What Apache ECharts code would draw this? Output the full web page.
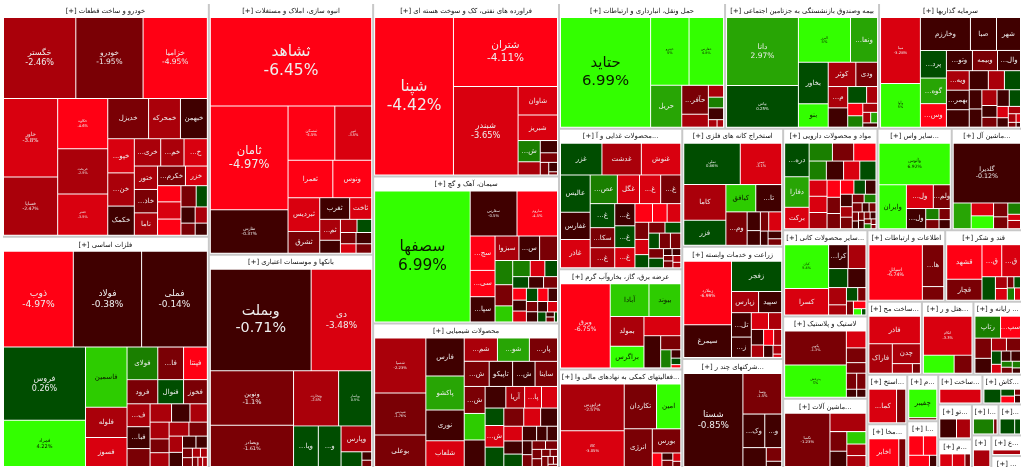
<!DOCTYPE html>
<html><head><meta charset="utf-8">
<style>html,body{margin:0;padding:0;background:#fff}#c{width:1024px;height:474px}</style>
<script src="https://cdn.jsdelivr.net/npm/echarts@6/dist/echarts.min.js"></script>
</head><body><div id="c"></div>
<script>
const autoCells=[['خگستر',-2.46,5688],['خودرو',-1.95,5293],['خزامیا',-4.95,5056],['خاور',-3.8,4134],['خساپا',-2.47,3074],['خکاوه',-4.6,2450],['خریخت',-2.5,2205],['خفنر',-3.5,2009],['خدیزل',-1.5,1599],['خمحرکه',-2.5,1248],['خبهمن',-0.5,1053],['...خپو',-3.5,884],['...خن',-2.5,858],['خکمک',-0.5,754],['...خری',-2.5,702],['...خم',-2.5,621],['...خ',-3.5,621],['ختور',-2.5,529],['...خاذ',-1.5,529],['ناما',-2.5,506],['...خکرم',-1.5,532],['خزر',-3.5,418],['...خر',-4.5,368],['...خج',-3.5,391],['...خاه',-4.5,368],['',-1.5,315],['',0.5,231],['',-0.5,224],['',-2.5,192],['',-1.5,168],['',-0.5,144]];
const metalCells=[['ذوب',-4.97,6417],['فولاد',-0.38,6278],['فملی',-0.14,6045],['فروس',0.26,5767],['فمراد',4.22,3634],['فاسمین',3.5,2400],['فلوله',-2.5,1200],['فسوز',-3.5,1160],['فولای',1.5,961],['...فا',-1.5,806],['فپنتا',-4.5,744],['فرود',-1.5,713],['فنوال',0.5,598],['فخوز',-1.5,552],['...ف',-2.5,506],['...فبا',-0.5,484],['فجر',-1.5,396],['...ف ',-2.5,378],['',-0.5,324],['',-2.5,306],['...فز',-2.5,306],['',-1.5,252],['',-2.5,252],['',-2.5,266],['',-1.5,247],['',-2.5,209],['',-0.5,182],['',-0.5,156],['',-0.5,132],['',-1.5,90],['',-1.5,84],['',-2.5,70],['',-2.5,60],['',-1.5,49],['',-2.5,42],['',-2.5,42]];
const buildCells=[['ثشاهد',-6.45,13846],['ثامان',-4.97,7828],['تفارس',-0.37,3268],['ثمسکن',-4.5,2468],['ثنور',-3.5,1943],['ثعمرا',-4.5,1620],['ونوس',-4.5,1404],['ثبردیس',-3.5,1037],['ثشرق',-1.5,671],['ثغرب',-0.5,630],['ثاخت',-3.5,462],['...ثم',-2.5,420],['',-0.5,260],['',-2.5,212],['',0.5,187],['',-1.5,170],['',-3.5,143],['',-0.5,170],['',-1.5,143]];
const bankCells=[['وبملت',-0.71,10000],['دی',-3.48,6000],['ونوین',-1.1,4428],['وبصادر',-1.61,3362],['وتجارت',-2.5,2430],['وپاسار',0.5,1782],['...ویا',0.5,984],['...و',0.5,902],['وپارس',-2.5,775],['...و ',0.5,300],['',-0.5,80],['',-1.5,60]];
const oilCells=[['شپنا',-4.42,12168],['شتران',-4.11,7035],['شبندر',-3.65,5607],['شاوان',-3.5,1107],['شبریز',-3.5,984],['...ش',1.5,462],['',-2.5,286],['',-0.5,207],['',-1.5,162],['',-1.5,104],['',-0.5,81],['',-1.5,27]];
const cementCells=[['سصفها',6.99,11960],['سفارس',-0.5,2016],['ساروم',-4.5,1743],['...سج',-4.5,816],['...سی',-4.5,624],['...سپا',-0.5,600],['سبزوا',-2.5,559],['...س',-0.5,484],['',-1.5,419],['',1.5,408],['',-1.5,357],['',3.5,272],['',1.5,270],['',-3.5,225],['',0.5,195],['',0.5,176],['',-0.5,165],['',-1.5,154],['',-4.5,156],['',-0.5,143],['',-3.5,143],['',0.5,144],['',-4.5,132],['',-0.5,120],['',-1.5,110],['',-0.5,110],['',-0.5,99],['',-3.5,99],['',0.5,80],['',-0.5,40],['',-1.5,40],['',0.5,30]];
const chemCells=[['شسپا',-2.23,2646],['شپدیس',-1.76,2009],['بوعلی',-1.5,1519],['فارس',-0.5,1369],['پاکشو',2.5,1221],['نوری',-0.5,1110],['شلعاب',-3.5,925],['...شم',-2.5,728],['...شو',2.5,700],['...پار',-1.5,616],['...ش',-1.5,588],['تاپیکو',-0.5,552],['...ش ',-0.5,529],['ساینا',-1.5,529],['...ش  ',-1.5,529],['',3.5,520],['',-0.5,520],['',-0.5,420],['آریا',-2.5,380],['...پا',-3.5,342],['',-3.5,324],['...زا',0.5,306],['...ش   ',-3.5,380],['...ش    ',0.5,340],['...شا',-1.5,340],['',-3.5,288],['',-0.5,288],['',-3.5,256],['',-0.5,228],['',0.5,216],['',-0.5,195],['',-0.5,143],['',-0.5,143],['',-0.5,126],['',-1.5,108],['',-1.5,108],['',-1.5,96],['',-1.5,84],['',-1.5,70],['',-1.5,56],['',-1.5,49],['',-1.5,60],['',-1.5,40],['',-1.5,30],['',-1.5,20]];
const transportCells=[['حتاید',6.99,9701],['حپترو',5,2562],['حفارس',4.8,2300],['حریل',2.5,1278],['...حآفر',-1.5,754],['',-2.5,338],['',-2.5,176],['',1.5,160],['',-0.5,176],['',-2.5,64],['',-2.5,48]];
const insureCells=[['دانا',2.97,4690],['بپاس',0.25,2870],['البرز',5,2236],['...ونعا',2.5,1161],['بخاور',0.5,1189],['بنو',4,667],['کوثر',-2.5,644],['ودی',-1.5,506],['...م',-2.5,399],['...آ',-0.5,361],['...پار',0.5,304],['',-2.5,176],['',-4.5,180],['',1.5,165],['',-2.5,128],['',-2.5,80],['',2,70],['',-0.5,60]];
const investCells=[['مبنا',-3.28,2470],['وآوا',5,1634],['وخارزم',-0.5,1550],['صبا',-0.5,806],['شهر',-0.5,744],['...پرد',0.5,675],['...گوه',2.5,625],['...وس',-4.5,575],['...وتو',-0.5,494],['وبیمه',-1.5,475],['...وال',-0.5,437],['...ویه',-2.5,418],['...بهمر',-0.5,418],['...و',-0.5,374],['...و ',-0.5,342],['...و  ',-2.5,288],['...و   ',0.5,288],['',-0.5,228],['',-0.5,216],['',-2.5,224],['',-0.5,168],['',-1.5,140],['',-0.5,192],['',0.5,176],['',-3.5,120],['',-0.5,100],['',-2.5,84],['',-2.5,63],['',-3.5,36],['',-1.5,35],['',-0.5,20]];
const foodCells=[['غزر',0.5,1230],['غدشت',-2.5,1170],['غنوش',-3.5,1170],['عالیس',0.5,1036],['غفارس',-0.5,756],['غاذر',-3.5,784],['...عص',1.5,729],['غگل',-3.5,594],['...غ',-3.5,567],['...غ ',-1.5,540],['...غ  ',0.5,552],['...سکا',-1.5,460],['...غ   ',-2.5,460],['...غ    ',-0.5,418],['...غ     ',0.5,412],['...غ      ',-3.5,380],['...غ       ',-4.5,306],['...غ        ',-4.5,255],['',-3.5,238],['',-1.5,221],['',-3.5,195],['',0.5,169],['',-1.5,165],['',0.5,160],['',0.5,155],['',-1.5,160],['',-1.5,150],['',-1.5,132],['',0.5,132],['',-0.5,56],['',-0.5,56],['',-1.5,48],['',-1.5,60],['',-2.5,50],['',-2.5,40]];
const powerCells=[['وبرق',-6.75,3984],['آبادا',3.5,1209],['بیوند',3.5,992],['بمولد',-2.5,957],['براگرس',5,693],['...دم',-3.5,672],['',-0.5,512],['',-1.5,270],['',1.5,180],['',-0.5,77],['',0.5,60],['',-4.5,30]];
const financeCells=[['فرابورس',-2.57,2898],['کالا',-3.05,2205],['تکاردان',-1.5,1408],['امین',4.5,1056],['انرژی',-1.5,1026],['بورس',-1.5,667],['',-4.5,126],['',-0.5,77],['',-1.5,66],['',-3.5,64],['',-1.5,40]];
const miningCells=[['تملی',0.86,2240],['تپمی',-3.1,1640],['کاما',-2.5,1435],['فزر',0.5,1013],['کیافق',3,780],['...تا',-0.5,676],['...وم',-1.5,680],['',-0.5,238],['',-0.5,187],['',-1.5,153],['...ا',-3.5,238],['',-0.5,105],['',-0.5,100],['',-1.5,85]];
const farmCells=[['زملارد',-6.99,2852],['سیمرغ',-0.5,1472],['زفجر',0.5,1428],['زپارس',-2.5,540],['سپید',-0.5,460],['...تل',-0.5,456],['...ز',-0.5,380],['...ز ',-3.5,272],['',-2.5,208],['',-0.5,180],['',-2.5,144],['',-4.5,150],['',-2.5,120],['',-0.5,108],['',-2.5,72],['',-3.5,27]];
const holdingCells=[['شستا',-0.85,5452],['وصنا',-1.5,1560],['...وک',-0.5,726],['...و',-0.5,561],['...وغ',-0.5,437],['',-1.5,208],['',-0.5,80]];
const pharmaCells=[['...دره',0.5,726],['دفارا',2.5,660],['برکت',-3.5,462],['ددانا',1.5,368],['...دبا',-1.5,336],['داوه',-4.5,352],['...ک',1.5,289],['',-0.5,289],['...د',-3.5,272],['دلر',0.5,272],['...د ',-3.5,256],['...د  ',-3.5,256],['...د   ',-2.5,256],['',-4.5,204],['',-1.5,192],['',-1.5,180],['',-4,168],['',0.5,144],['',-0.5,132],['',-0.5,130],['',-2.5,110],['',-1.5,120],['',-1.5,90],['',1.5,90],['',-1.5,80],['',-0.5,56],['',-1.5,56],['',-1.5,49],['',-0.5,42],['',-1.5,42],['',-0.5,42],['',-1.5,36],['',-0.5,36],['',-1.5,30],['',1.5,30],['',-1.5,24],['',-1.5,18]];
const brokerCells=[['وآتوس',6.92,2880],['وایران',5,1170],['...ول',-3.5,621],['...ولم',-1.5,391],['...ول ',-0.5,378],['',1.5,143],['',-1.5,117],['',-1.5,121],['',-0.5,99]];
const machineTradeCells=[['گلدیرا',-0.12,4002],['',2.5,459],['',-3.5,286],['',5,286],['',-1.5,196],['',-1.5,168],['',1.5,143],['',-3.5,78],['',-2.5,104]];
const mineralCells=[['کیان',5.4,1806],['کسرا',-3.5,1092],['...کرا',-0.5,440],['',-2.5,396],['...کا',0.5,342],['...ک',-0.5,324],['',-2.5,289],['',-2.5,170],['',0.5,143],['',-1.5,104],['',-1.5,91],['',-4.5,89],['',5,48],['',0.5,26]];
const rubberCells=[['پکویر',-1.3,2040],['پدرخش',5,1920],['پتایر',-3.5,320],['',-1.5,280],['',-1.5,200],['',-1.5,160],['',-1.5,144],['',-0.5,80],['',-0.5,72]];
const machineCells=[['تکمبا',-1.23,2193],['...بترا',-2.5,600],['',-1.5,300],['',-0.5,234],['',3.5,216],['',-2.5,200],['',-2.5,190]];
const itCells=[['اسیاتل',-6.74,2916],['...ها',-1.5,880],['',-1.5,286]];
const sugarCells=[['قشهد',-4.5,1155],['قچار',-1.5,700],['...ق',-4.5,600],['...ق ',-3.5,570],['',0.5,299],['',-2.5,132],['',-3.5,132],['',-1.5,70],['',0.5,70],['',1.5,84],['',-3.5,70]];
const metalProdCells=[['فاذر',-3.5,1325],['فاراک',-2.5,644],['چدن',-2.5,522],['',-2.5,180],['',-1.5,72]];
const hotelCells=[['اتکام',-3.3,1800],['آباد',5,527],['',-1.5,306]];
const computerCells=[['رتاپ',1.5,513],['...سپ',-4,400],['',-1.5,304],['',-0.5,224],['',-2.5,176],['',-1.5,165],['',0.5,120],['',-3.5,80],['',-0.5,90],['',-0.5,90],['',1.5,60],['',-1.5,60],['',1.5,50],['',-0.5,40]];
const quarryCells=[['...کما',-3.5,945],['',-1.5,315]];
const communeCells=[['اخابر',-4,900],['',-1.5,210]];
const prodCells=[['چفیبر',5,702],['',-1.5,54]];
const extractCells=[['',-4.5,208],['',-4.5,190],['',-4.5,170],['',-0.5,60]];
const buildSvcCells=[['',-3.5,560]];
const ceramicCells=[['',0.5,225],['',0.5,91],['',-4.5,91],['',-1.5,35],['',-0.5,45]];
const toolCells=[['نیان',-0.5,270],['',-2.5,225]];
const mCells=[['',-3.5,273],['',-3.5,273],['',-1.5,120]];
const aCells=[['',1.5,350],['',-1.5,60]];
const gCells=[['',0.5,225],['',0.5,90]];
const vCells=[['...و',-2.5,270]];
const sCells=[['',-2.5,150]];
const tCells=[['',-2.5,120],['',-1.5,40]];

const sectorNames=['خودرو و ساخت قطعات','فلزات اساسی','انبوه سازی، املاک و مستغلات','بانکها و موسسات اعتباری','فراورده های نفتی، کک و سوخت هسته ای','سیمان، آهک و گچ','محصولات شیمیایی','حمل ونقل، انبارداری و ارتباطات','بیمه وصندوق بازنشستگی به جزتامین اجتماعی','سرمایه گذاریها','محصولات غذایی و آشامیدنی به جز ...','عرضه برق، گاز، بخاروآب گرم','فعالیتهای کمکی به نهادهای مالی وا...','استخراج کانه های فلزی','زراعت و خدمات وابسته','شرکتهای چند رشته ای صنعتی','مواد و محصولات دارویی','سایر واسطه گریها...','ماشین آلات و تج...','سایر محصولات کانی...','لاستیک و پلاستیک','ماشین آلات و دستگاه...','اطلاعات و ارتباطات','قند و شکر','ساخت مح...','هتل و ر...','رایانه و ...','استخ...','مخابر...','محصو...','استخرا...','ساخت...','کاشی...','تول...','م...','ا...','...','...','ع...','...'];
const sectorSizes=[47457,46945,40587,34393,31635,26825,26362,20480,18990,17630,17010,12115,11930,11700,11100,10800,9400,7400,7000,7138,6806,5727,5460,5390,3905,3692,3479,1938,1710,1419,1419,1290,1155,1155,945,810,713,620,620,360];
const sectorCells=[autoCells,metalCells,buildCells,bankCells,oilCells,cementCells,chemCells,transportCells,insureCells,investCells,foodCells,powerCells,financeCells,miningCells,farmCells,holdingCells,pharmaCells,brokerCells,machineTradeCells,mineralCells,rubberCells,machineCells,itCells,sugarCells,metalProdCells,hotelCells,computerCells,quarryCells,communeCells,prodCells,extractCells,buildSvcCells,ceramicCells,toolCells,mCells,aCells,gCells,vCells,sCells,tCells];

const pctLabelFont={'ثشاهد':15.5,'ثامان':11.5,'تفارس':4.3,'ثمسکن':3.8,'ثنور':3.5,'خگستر':8.1,'خودرو':7.5,'خزامیا':7.5,'خاور':5.5,'خساپا':4.5,'خکاوه':3.6,'خریخت':3.4,'خفنر':3.4,'ذوب':9.2,'فولاد':9,'فملی':9,'فروس':8,'فمراد':5,'وبملت':14.3,'دی':8.9,'ونوین':6.6,'وبصادر':4.9,'وتجارت':3.6,'وپاسار':3.4,'شپنا':15.5,'شتران':10.5,'شبندر':8.3,'سصفها':15.4,'سفارس':3.8,'ساروم':3.6,'شسپا':3.8,'شپدیس':3.4,'حتاید':14.9,'حپترو':3.5,'حفارس':3.4,'دانا':7.5,'بپاس':4,'البرز':3.6,'مبنا':3.8,'وآوا':3.4,'فرابورس':4.4,'کالا':3.8,'وبرق':6.2,'تملی':3.8,'تپمی':3.5,'زملارد':4.3,'شستا':8.9,'وصنا':3.6,'وآتوس':4.5,'گلدیرا':6.3,'کیان':3.4,'پکویر':3.4,'پدرخش':3.3,'تکمبا':3.8,'اسیاتل':4.7,'اتکام':3.6};
const nameOnlyFont=7;
const colorBins=[[-4,'#ff0014'],[-3,'#d9000f'],[-2,'#aa000a'],[-1,'#7a0005'],[0,'#400000'],[1,'#004d00'],[2,'#1a7f00'],[3,'#28a505'],[4,'#2dcc00']];
const colorOf=p=>{for(const [lim,c] of colorBins){if(lim<=0?p<=lim:p<lim)return c;}return '#33ff00';};

const toLeaf=([name,pct,size])=>{
  const f=pctLabelFont[name];
  const text=name?(f?name+'\n'+pct+'%':name.trim()):'';
  const fs=f||nameOnlyFont;
  return {name:name||' ',value:size,itemStyle:{color:colorOf(pct)},
    label:{show:!!text,formatter:text||' ',fontSize:fs,lineHeight:fs*1.2,color:pct>=3?'#0a1a00':'#eee'}};
};
const data=sectorNames.map((n,i)=>({name:'[+] '+n,value:sectorSizes[i],children:sectorCells[i].map(toLeaf)}));

const chart=echarts.init(document.getElementById('c'),null,{renderer:'canvas'});
chart.setOption({
  animation:false,backgroundColor:'#fff',
  series:[{type:'treemap',left:3,top:4,width:1018,height:463,sort:false,roam:false,nodeClick:false,
    visibleMin:0,childrenVisibleMin:0,squareRatio:1,
    breadcrumb:{show:false},
    label:{show:true,position:'inside',align:'center',verticalAlign:'middle',fontFamily:'DejaVu Sans',overflow:'none'},
    upperLabel:{show:false},
    levels:[
      {itemStyle:{borderWidth:0,gapWidth:2,borderColor:'#c8c8c8'}},
      {itemStyle:{borderWidth:1,gapWidth:1,borderColor:'#fff'},
       upperLabel:{show:true,position:'inside',height:14,color:'#111',fontSize:6.8,fontFamily:'DejaVu Sans',align:'center',verticalAlign:'middle',overflow:'truncate'}},
      {itemStyle:{borderWidth:0,gapWidth:0}}
    ],
    data}],
  graphic:[
    {type:'text',left:847,top:434,silent:true,style:{text:'Activate Windows',fontFamily:'Open Sans',fontSize:14.5,fill:'rgba(255,255,255,0.3)'}},
    {type:'text',left:847,top:452,silent:true,style:{text:'Go to Settings to activate Windows.',fontFamily:'Open Sans',fontSize:8.8,fill:'rgba(255,255,255,0.3)'}}
  ]
});
</script></body></html>
